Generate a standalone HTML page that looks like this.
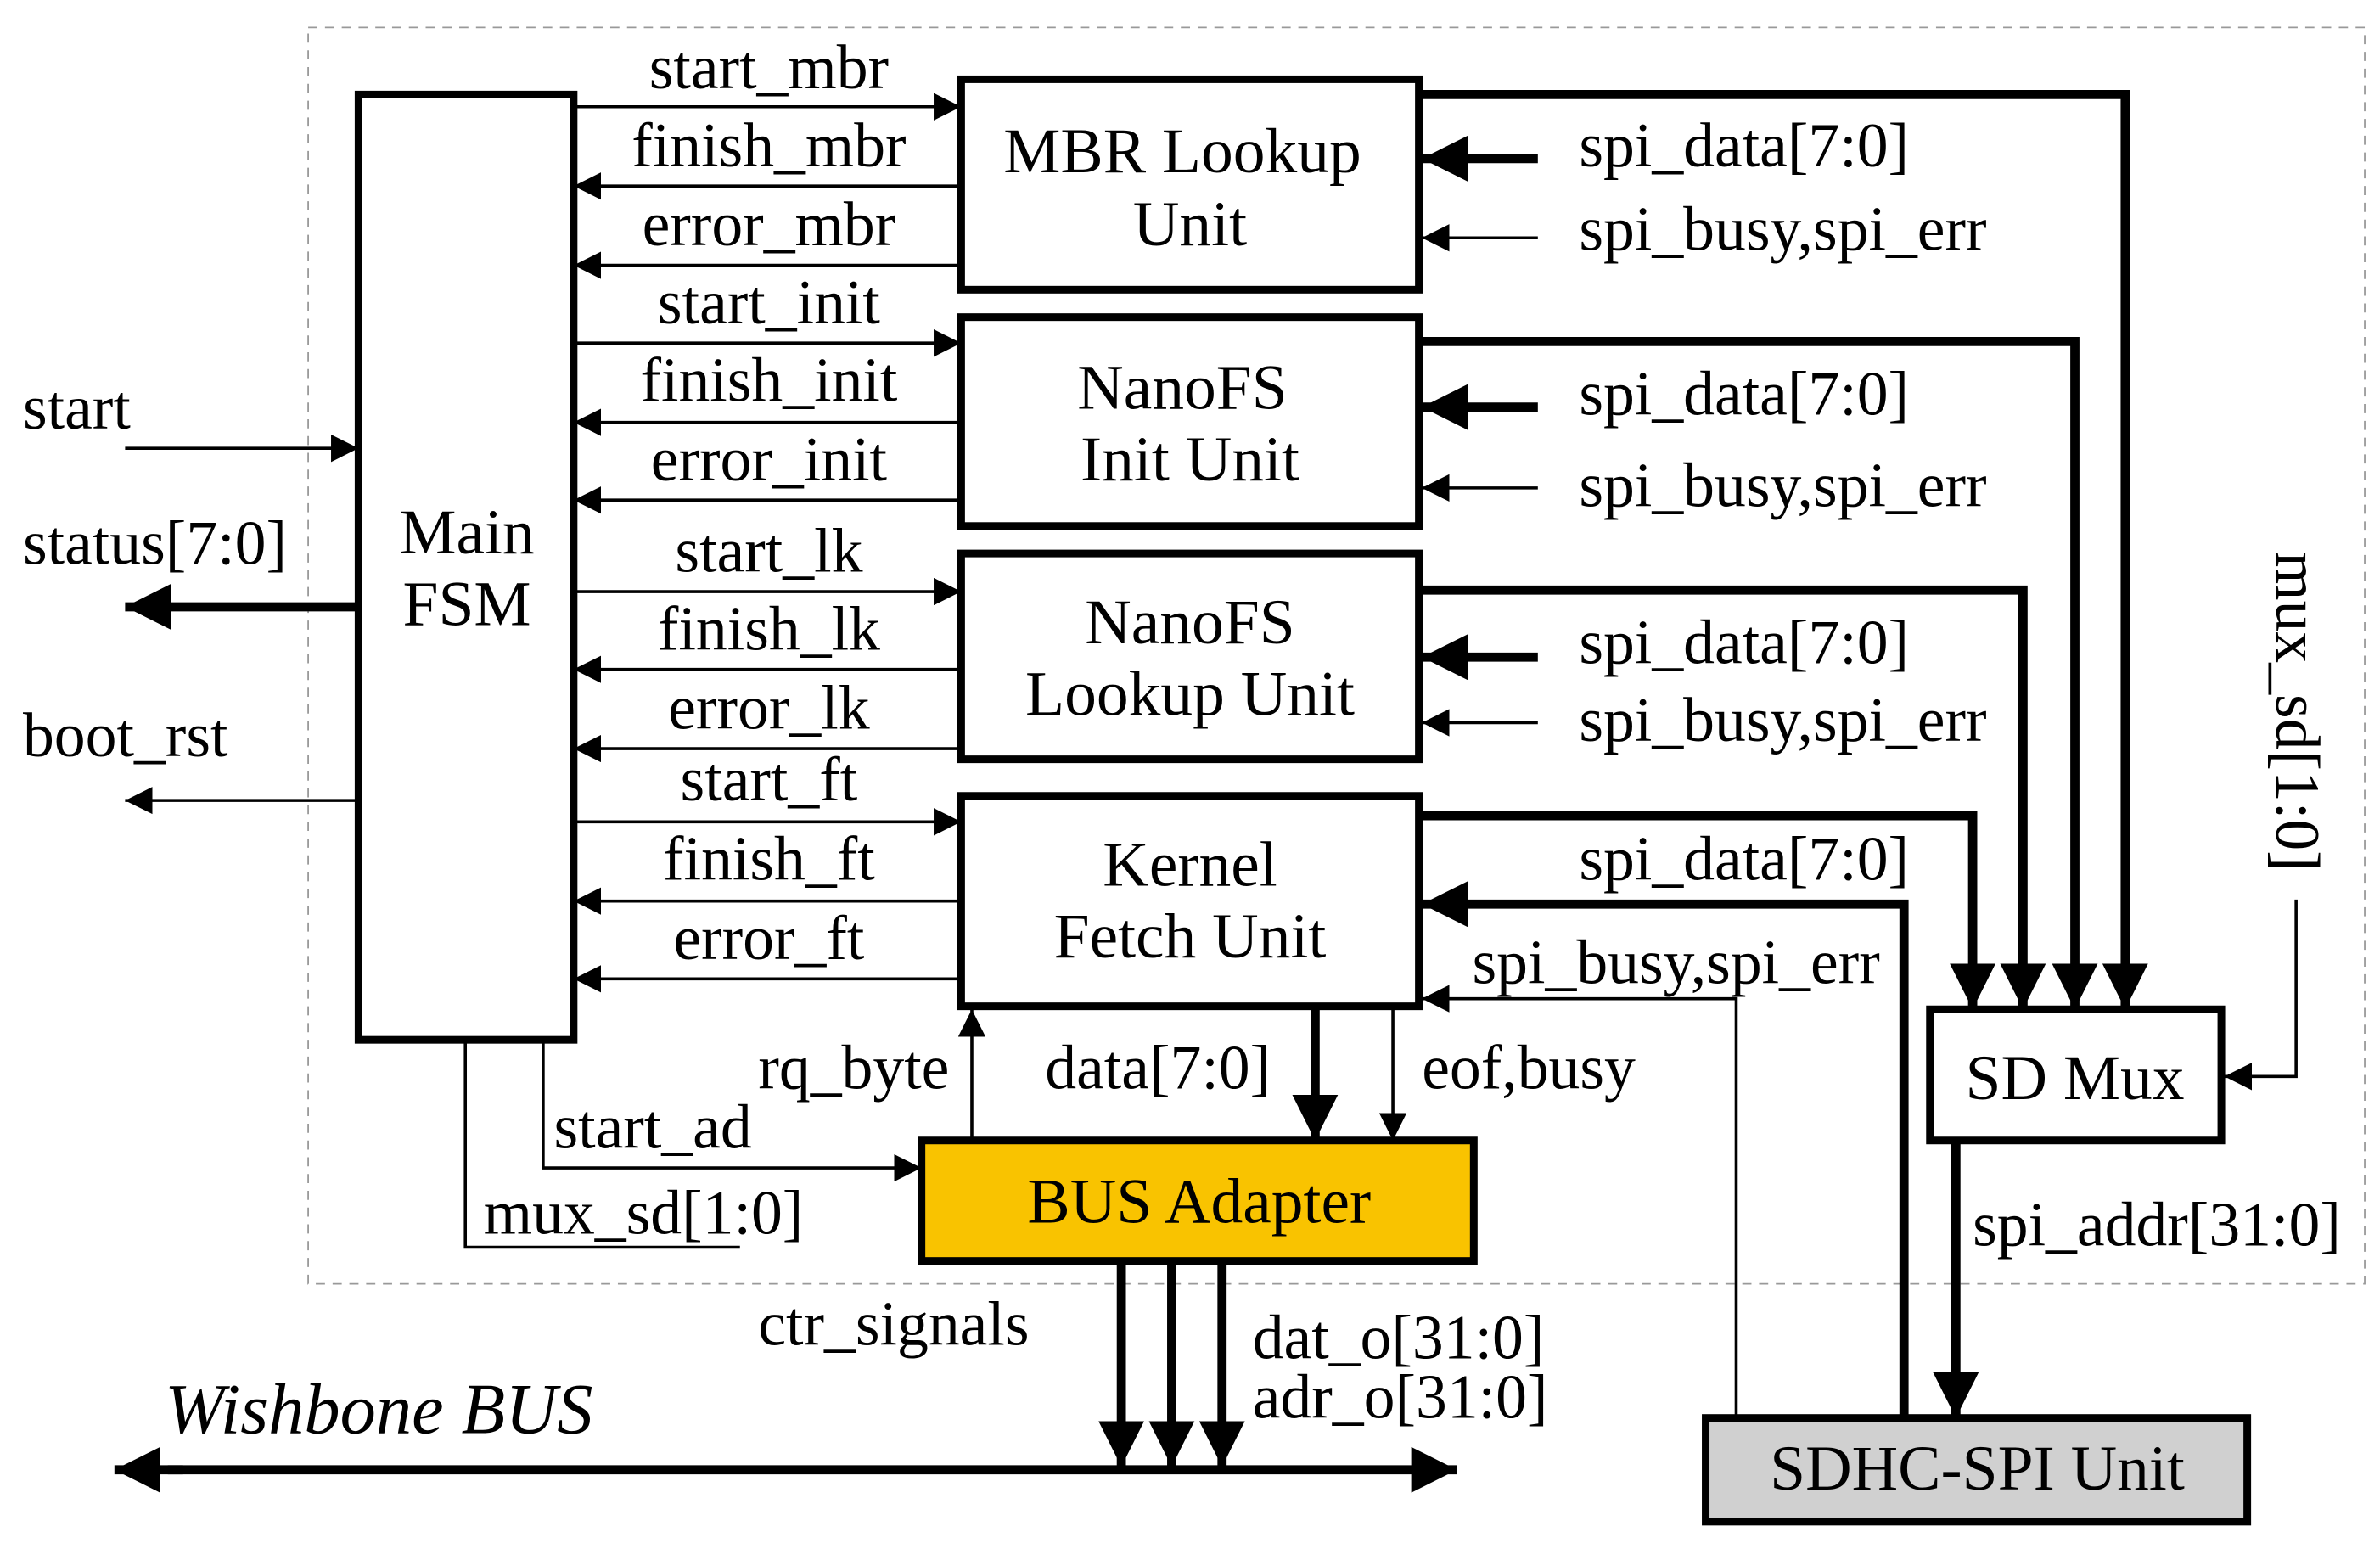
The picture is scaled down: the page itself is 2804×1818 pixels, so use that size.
<!DOCTYPE html>
<html><head><meta charset="utf-8"><style>html,body{margin:0;padding:0;background:#fff}svg{display:block}</style></head><body>
<svg width="2804" height="1818" viewBox="0 0 1560 1012" preserveAspectRatio="none" xmlns="http://www.w3.org/2000/svg" font-family="Liberation Serif, serif">
<defs>
<marker id="a" viewBox="0 0 10 10" refX="10" refY="5" markerWidth="18" markerHeight="18" markerUnits="userSpaceOnUse" orient="auto"><path d="M0,0L10,5L0,10z"/></marker>
<marker id="b" viewBox="0 0 10 10" refX="10" refY="5" markerWidth="5" markerHeight="5" orient="auto"><path d="M0,0L10,5L0,10z"/></marker>
</defs>
<rect x="202" y="18" width="1348" height="824" fill="none" stroke="#999" stroke-width="1" stroke-dasharray="6,5"/>
<g fill="none" stroke="#000" stroke-width="5">
<rect x="235" y="62" width="141" height="620"/>
<rect x="630" y="52" width="300" height="138"/>
<rect x="630" y="208" width="300" height="137"/>
<rect x="630" y="363" width="300" height="135"/>
<rect x="630" y="522" width="300" height="138"/>
<rect x="1265" y="662" width="191" height="86"/>
</g>
<rect x="604" y="748" width="362" height="79" fill="#f9c300" stroke="#000" stroke-width="5"/>
<rect x="1118" y="930" width="355" height="68" fill="#d0d0d0" stroke="#000" stroke-width="5"/>
<g stroke="#000" stroke-width="2" fill="none">
<line x1="376" y1="70" x2="630" y2="70" marker-end="url(#a)"/>
<line x1="630" y1="122" x2="376" y2="122" marker-end="url(#a)"/>
<line x1="630" y1="174" x2="376" y2="174" marker-end="url(#a)"/>
<line x1="376" y1="225" x2="630" y2="225" marker-end="url(#a)"/>
<line x1="630" y1="277" x2="376" y2="277" marker-end="url(#a)"/>
<line x1="630" y1="328" x2="376" y2="328" marker-end="url(#a)"/>
<line x1="376" y1="388" x2="630" y2="388" marker-end="url(#a)"/>
<line x1="630" y1="439" x2="376" y2="439" marker-end="url(#a)"/>
<line x1="630" y1="491" x2="376" y2="491" marker-end="url(#a)"/>
<line x1="376" y1="539" x2="630" y2="539" marker-end="url(#a)"/>
<line x1="630" y1="591" x2="376" y2="591" marker-end="url(#a)"/>
<line x1="630" y1="642" x2="376" y2="642" marker-end="url(#a)"/>
<line x1="1008" y1="156" x2="932" y2="156" marker-end="url(#a)"/>
<line x1="1008" y1="320" x2="932" y2="320" marker-end="url(#a)"/>
<line x1="1008" y1="474" x2="932" y2="474" marker-end="url(#a)"/>
<polyline points="1138,930 1138,655 932,655" marker-end="url(#a)"/>
<polyline points="1505,590 1505,706 1458,706" marker-end="url(#a)"/>
<line x1="82" y1="294" x2="235" y2="294" marker-end="url(#a)"/>
<line x1="235" y1="525" x2="82" y2="525" marker-end="url(#a)"/>
<polyline points="305,682 305,818 485,818"/>
<polyline points="356,682 356,766 604,766" marker-end="url(#a)"/>
<line x1="637" y1="748" x2="637" y2="662" marker-end="url(#a)"/>
<line x1="913" y1="660" x2="913" y2="748" marker-end="url(#a)"/>
</g>
<g stroke="#000" stroke-width="6" fill="none">
<polyline points="932,62 1393,62 1393,662" marker-end="url(#b)"/>
<polyline points="932,224 1360,224 1360,662" marker-end="url(#b)"/>
<polyline points="932,387 1326,387 1326,662" marker-end="url(#b)"/>
<polyline points="932,535 1293,535 1293,662" marker-end="url(#b)"/>
<line x1="1008" y1="104" x2="932" y2="104" marker-end="url(#b)"/>
<line x1="1008" y1="267" x2="932" y2="267" marker-end="url(#b)"/>
<line x1="1008" y1="431" x2="932" y2="431" marker-end="url(#b)"/>
<polyline points="1248,930 1248,593 932,593" marker-end="url(#b)"/>
<line x1="1282" y1="748" x2="1282" y2="930" marker-end="url(#b)"/>
<line x1="235" y1="398" x2="82" y2="398" marker-end="url(#b)"/>
<line x1="862" y1="660" x2="862" y2="748" marker-end="url(#b)"/>
<line x1="735" y1="827" x2="735" y2="962" marker-end="url(#b)"/>
<line x1="768" y1="827" x2="768" y2="962" marker-end="url(#b)"/>
<line x1="801" y1="827" x2="801" y2="962" marker-end="url(#b)"/>
<line x1="110" y1="964" x2="955" y2="964" marker-end="url(#b)"/>
<line x1="120" y1="964" x2="75" y2="964" marker-end="url(#b)"/>
</g>
<g font-size="41" fill="#000" text-anchor="middle">
<text x="504" y="58">start_mbr</text>
<text x="504" y="109">finish_mbr</text>
<text x="504" y="161">error_mbr</text>
<text x="504" y="212">start_init</text>
<text x="504" y="263">finish_init</text>
<text x="504" y="315">error_init</text>
<text x="504" y="375">start_lk</text>
<text x="504" y="426">finish_lk</text>
<text x="504" y="478">error_lk</text>
<text x="504" y="525">start_ft</text>
<text x="504" y="577">finish_ft</text>
<text x="504" y="629">error_ft</text>
</g>
<g font-size="42" fill="#000" text-anchor="middle">
<text x="775" y="113">MBR  Lookup</text>
<text x="780" y="161">Unit</text>
<text x="775" y="268">NanoFS</text>
<text x="780" y="315">Init Unit</text>
<text x="780" y="422">NanoFS</text>
<text x="780" y="469">Lookup Unit</text>
<text x="780" y="581">Kernel</text>
<text x="780" y="628">Fetch Unit</text>
<text x="306" y="363">Main</text>
<text x="306" y="410">FSM</text>
<text x="786" y="802">BUS Adapter</text>
<text x="1360" y="721">SD Mux</text>
<text x="1296" y="977">SDHC-SPI Unit</text>
</g>
<g font-size="41" fill="#000">
<text x="1035" y="109">spi_data[7:0]</text>
<text x="1035" y="164">spi_busy,spi_err</text>
<text x="1035" y="272">spi_data[7:0]</text>
<text x="1035" y="332">spi_busy,spi_err</text>
<text x="1035" y="435">spi_data[7:0]</text>
<text x="1035" y="486">spi_busy,spi_err</text>
<text x="1035" y="577">spi_data[7:0]</text>
<text x="965" y="645">spi_busy,spi_err</text>
<text x="15" y="281">start</text>
<text x="15" y="370">status[7:0]</text>
<text x="15" y="496">boot_rst</text>
<text x="497" y="714">rq_byte</text>
<text x="685" y="714">data[7:0]</text>
<text x="932" y="714">eof,busy</text>
<text x="363" y="753">start_ad</text>
<text x="317" y="809">mux_sd[1:0]</text>
<text x="1293" y="817">spi_addr[31:0]</text>
<text x="497" y="882">ctr_signals</text>
<text x="821" y="891">dat_o[31:0]</text>
<text x="821" y="930">adr_o[31:0]</text>
<text x="108" y="940" font-style="italic" font-size="47">Wishbone BUS</text>
<text transform="translate(1492,362) rotate(90)">mux_sd[1:0]</text>
</g>
</svg>
</body></html>
